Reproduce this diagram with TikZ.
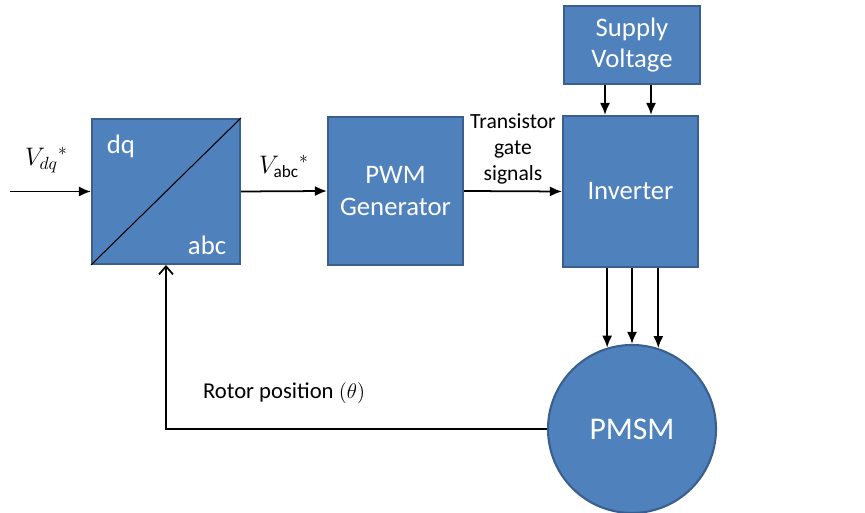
\documentclass[tikz,border=0pt]{standalone}
\usepackage{amsmath}
\usepackage{fontspec}
\setmainfont{Carlito}
\usetikzlibrary{positioning, arrows.meta, calc}

\definecolor{blockfill}{HTML}{4F81BD}
\definecolor{blockedge}{HTML}{3A5F8E}

\tikzset{
    block/.style={draw=blockedge, fill=blockfill, line width=1.2pt, text=white, align=center,
        inner sep=0pt, font=\fontsize{15.2}{18}\selectfont},
    sig/.style={-{Latex[length=2.4mm, width=2mm]}, line width=1pt},
    fb/.style={-{Straight Barb[length=1.6mm, width=2.8mm]}, line width=1pt},
    lbl/.style={font=\fontsize{12.3}{14.8}\selectfont, align=center},
    mlbl/.style={font=\fontsize{14}{17}\selectfont},
}

\begin{document}
\begin{tikzpicture}
    \useasboundingbox (0,0) rectangle (17.3,10.26);

    % blocks
    \node[block, minimum width=2.96cm, minimum height=2.9cm] (conv) at (3.32,6.43) {};
    \draw[line width=0.6pt] (conv.south west) -- (conv.north east);
    \node[text=white, font=\fontsize{15.2}{18}\selectfont] at ($(conv.north west)+(0.6,-0.56)$) {dq};
    \node[text=white, font=\fontsize{15.2}{18}\selectfont] at ($(conv.south east)+(-0.68,0.4)$) {abc};

    \node[block, minimum width=2.7cm, minimum height=2.96cm] (pwm) at (7.91,6.44) {PWM\\Generator};
    \node[block, minimum width=2.7cm, minimum height=3.02cm] (inv) at (12.61,6.43) {Inverter};
    \node[block, minimum width=2.72cm, minimum height=1.56cm] (supply) at (12.64,9.36) {Supply\\Voltage};
    \node[block, circle, minimum size=3.36cm, font=\fontsize{18}{21}\selectfont] (pmsm) at (12.64,1.68) {PMSM};

    % signal path
    \coordinate (in) at (0.2,6.43);
    \draw[sig] (in) -- node[mlbl, above=2.4mm, pos=0.45] {${V_{dq}}^{*}$} (conv.west);
    \draw[sig] (conv.east) -- node[mlbl, above=1.4mm] {${V_{\text{abc}}}^{*}$} (pwm.west);
    \draw[sig] (pwm.east) -- node[lbl, above=0pt] {Transistor\\gate\\signals} (inv.west);

    % supply and phase lines
    \coordinate (s1) at ($(supply.south)+(-0.54,0)$);
    \coordinate (s2) at ($(supply.south)+(0.38,0)$);
    \draw[sig] (s1) -- (s1 |- inv.north);
    \draw[sig] (s2) -- (s2 |- inv.north);
    \foreach \a in {107.5, 90, 72.5}
        \draw[sig] (inv.south -| pmsm.\a) -- (pmsm.\a);

    % rotor position feedback
    \draw[fb] (pmsm.west) -- node[lbl, above=3.6mm, pos=0.69, font=\fontsize{12.9}{15}\selectfont] {Rotor position $(\theta)$} (conv.south |- pmsm.west) -- (conv.south);
\end{tikzpicture}
\end{document}
